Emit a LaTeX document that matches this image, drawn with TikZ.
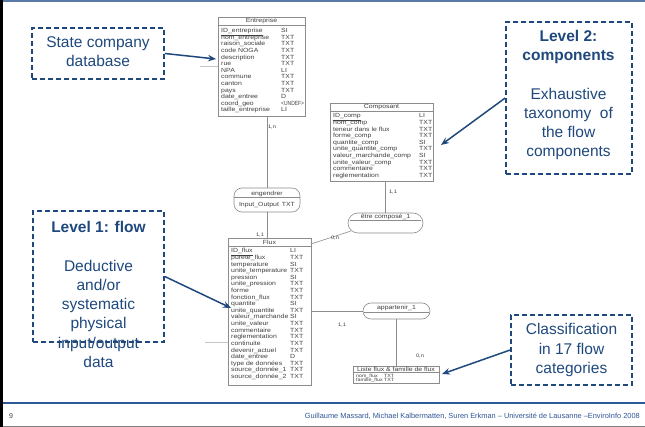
\documentclass[tikz,border=0pt]{standalone}
\usepackage{fontspec}
\usepackage{graphicx}
\setmainfont{Liberation Sans}
\newfontfamily\tblfont[FakeStretch=1.15]{Liberation Sans}
\usetikzlibrary{arrows.meta}
\definecolor{dblue}{HTML}{1F497D}
\definecolor{lineblue}{HTML}{2E5B97}
\definecolor{topblue}{HTML}{5A7BA8}
\definecolor{footblue}{HTML}{2F5597}
\definecolor{tgray}{HTML}{8C8C8C}
\definecolor{ttext}{HTML}{404040}
\definecolor{faint}{HTML}{C4C4C4}
\begin{document}
\begin{tikzpicture}[x=1pt,y=-1pt,
  dashbox/.style={draw=dblue, line width=1.6pt, dash pattern=on 5pt off 3pt, inner sep=0pt},
  bluetext/.style={text=dblue, font=\fontsize{15.5}{19.3}\selectfont, align=center, inner sep=0pt},
  callout/.style={draw=dblue, line width=1.5pt, -{Stealth[length=8pt,width=6.5pt]}},
  tbox/.style={draw=tgray, line width=0.6pt, inner sep=0pt, fill=white},
  tcell/.style={text=ttext, font=\tblfont\fontsize{6}{6.6}\selectfont, inner sep=0pt, anchor=base west},
  scell/.style={text=ttext, font=\tblfont\fontsize{4.6}{5}\selectfont, inner sep=0pt, anchor=base west},
  thead/.style={text=ttext, font=\tblfont\fontsize{6}{6.6}\selectfont, inner sep=0pt},
  rel/.style={draw=tgray, line width=0.6pt, rounded corners=8pt, inner sep=0pt, fill=white},
  link/.style={draw=tgray, line width=0.6pt},
  card/.style={text=ttext, font=\tblfont\fontsize{5}{5}\selectfont, inner sep=0pt},
]
\useasboundingbox (0,0) rectangle (645,427);
\fill[white] (0,0) rectangle (645,427);
% slide frame
\fill[black] (0,0) rectangle (3,427);
\draw[topblue, line width=1.5pt] (3,1) -- (645,1);
\draw[lineblue, line width=1.5pt] (3,403) -- (645,403);
\draw[gray, line width=1pt] (3,426.5) -- (645,426.5);
\node[anchor=base west, text=ttext, font=\fontsize{7}{8}\selectfont, inner sep=0pt] (pagenum) at (9,418) {9};
\node[anchor=base east, text=footblue, font=\fontsize{7.4}{8}\selectfont, inner sep=0pt] (foot) at (640,418)
  {Guillaume Massard, Michael Kalbermatten, Suren Erkman -- Université de Lausanne --EnviroInfo 2008};

% faint fragments
\draw[faint, line width=0.6pt] (200,66) -- (218,66);
\draw[faint, line width=0.6pt] (205,342) -- (228,342);

% ---------- Entreprise ----------
\node[tbox, minimum width=87pt, minimum height=99pt] (ent) at (261.5,66.5) {};
\node[thead] (enth) at (261.5,21) {Entreprise};
\draw[link] (ent.west |- 0,25) -- (ent.east |- 0,25);
\foreach \n/\t [count=\i from 0] in {\underline{ID\_entreprise}/SI, nom\_entreprise/TXT, raison\_sociale/TXT,
  code NOGA/TXT, description/TXT, rue/TXT, NPA/LI, commune/TXT, canton/TXT, pays/TXT,
  date\_entree/D, coord\_geo/\scalebox{0.72}[1]{\textless UNDEF\textgreater}, taille\_entreprise/LI}{
  \node[tcell] (e\i) at (221,{32.7+\i*6.6}) {\n};
  \node[tcell] (et\i) at (281,{32.7+\i*6.6}) {\t};
}

% ---------- Composant ----------
\node[tbox, minimum width=103pt, minimum height=78pt] (comp) at (381.5,142) {};
\node[thead] (comph) at (381.5,107) {Composant};
\draw[link] (comp.west |- 0,111) -- (comp.east |- 0,111);
\foreach \n/\t [count=\i from 0] in {\underline{ID\_comp}/LI, nom\_comp/TXT, teneur dans le flux/TXT,
  forme\_comp/TXT, quantite\_comp/SI, unite\_quantite\_comp/TXT, valeur\_marchande\_comp/SI,
  unite\_valeur\_comp/TXT, commentaire/TXT, reglementation/TXT}{
  \node[tcell] (c\i) at (333,{118+\i*6.6}) {\n};
  \node[tcell] (ct\i) at (419,{118+\i*6.6}) {\t};
}

% ---------- Flux ----------
\node[tbox, minimum width=83pt, minimum height=147pt] (flux) at (269.5,311.5) {};
\node[thead] (fluxh) at (269.5,242) {Flux};
\draw[link] (flux.west |- 0,246) -- (flux.east |- 0,246);
\foreach \n/\t [count=\i from 0] in {\underline{ID\_flux}/LI, purete\_flux/TXT, temperature/SI,
  unite\_temperature/TXT, pression/SI, unite\_pression/TXT, forme/TXT, fonction\_flux/TXT,
  quantite/SI, unite\_quantite/TXT, valeur\_marchande/SI, unite\_valeur/TXT, commentaire/TXT,
  reglementation/TXT, continuite/TXT, devenir\_actuel/TXT, date\_entree/D, type de données/TXT,
  source\_donnée\_1/TXT, source\_donnée\_2/TXT}{
  \node[tcell] (f\i) at (231,{253+\i*6.6}) {\n};
  \node[tcell] (ft\i) at (290,{253+\i*6.6}) {\t};
}

% ---------- Liste flux ----------
\node[tbox, minimum width=86pt, minimum height=17pt] (liste) at (396,374.5) {};
\node[thead] (listeh) at (396,369.5) {Liste flux \& famille de flux};
\draw[link] (liste.west |- 0,372.5) -- (liste.east |- 0,372.5);
\node[scell] (l0) at (356,377.2) {nom\_flux};
\node[scell] (lt0) at (384,377.2) {TXT};
\node[scell] (l1) at (356,381.4) {famille\_flux};
\node[scell] (lt1) at (384,381.4) {TXT};

% ---------- relationships ----------
\node[rel, minimum width=66pt, minimum height=24pt] (eng) at (267,200) {};
\node[thead] (engn) at (267,193.5) {engendrer};
\draw[link] (eng.west |- 0,197) -- (eng.east |- 0,197);
\node[thead] (engi) at (267,205) {Input\_Output\enspace TXT};

\node[rel, minimum width=75pt, minimum height=20pt, rounded corners=10pt] (etre) at (385.5,223) {};
\node[thead] (etren) at (385.5,216.5) {être composé\_1};
\draw[link] ([xshift=2pt]etre.west |- 0,220) -- ([xshift=-2pt]etre.east |- 0,220);

\node[rel, minimum width=67pt, minimum height=16pt, rounded corners=8pt] (app) at (396.5,311) {};
\node[thead] (appn) at (396.5,308) {appartenir\_1};
\draw[link] ([xshift=1pt]app.west |- 0,312) -- ([xshift=-1pt]app.east |- 0,312);

% ---------- connectors ----------
\draw[link] (eng.north |- ent.south) -- (eng.north);
\draw[link] (eng.south) -- (eng.south |- flux.north);
\draw[link] (etre.north |- comp.south) -- (etre.north);
\coordinate (fluxcorner) at (311,244);
\coordinate (etrefoot) at (351,231);
\draw[link] (fluxcorner) -- (etrefoot);
\draw[link] (flux.east |- app.west) -- (app.west);
\draw[link] (app.south) -- (app.south |- liste.north);

\node[card] (k1) at (272,127) {1,n};
\node[card] (k2) at (260,235) {1,1};
\node[card] (k3) at (393,192) {1,1};
\node[card] (k4) at (335,238) {0,n};
\node[card] (k5) at (342,325) {1,1};
\node[card] (k6) at (420,356) {0,n};

% ---------- callout boxes ----------
\node[dashbox, minimum width=132pt, minimum height=51pt] (state) at (98,53.5) {};
\node[bluetext] (statet) at (98,51.5) {State company\\database};

\node[dashbox, minimum width=126pt, minimum height=152pt] (lvl2) at (569,98) {};
\node[bluetext] (lvl2t) at (568.5,95) {\textbf{Level 2:}\\\textbf{components}\\[19.3pt]Exhaustive\\taxonomy~ of\\the flow\\components};

\node[dashbox, minimum width=131pt, minimum height=131pt] (lvl1) at (98.5,276.5) {};
\node[bluetext] (lvl1t) at (98.5,294.5) {\textbf{Level 1: flow}\\[19.3pt]Deductive\\and/or\\systematic\\physical\\input/output\\data};

\node[dashbox, minimum width=121pt, minimum height=70pt] (classif) at (571.5,350) {};
\node[bluetext] (classift) at (571.5,350) {Classification\\in 17 flow\\categories};

\coordinate (enttip) at (216,59);
\coordinate (comptip) at (441,145);
\coordinate (fluxtip) at (231,308);
\coordinate (listetip) at (442,374);
\draw[callout] (state.east) -- (enttip);
\draw[callout] (lvl2.west) -- (comptip);
\draw[callout] (lvl1.east) -- (fluxtip);
\draw[callout] (classif.west) -- (listetip);
\end{tikzpicture}
\end{document}
